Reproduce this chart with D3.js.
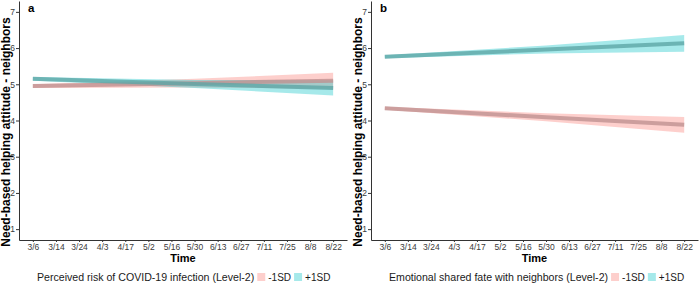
<!DOCTYPE html>
<html>
<head>
<meta charset="utf-8">
<script src="https://cdn.jsdelivr.net/npm/d3@7"></script>
<style>
  body { margin: 0; background: #fff; }
  svg { display: block; font-family: "Liberation Sans", Arial, sans-serif; }
</style>
</head>
<body>
<svg id="chart" width="700" height="284"></svg>
<script>
// time points shown on the x axis
const timeLabels = ["3/6", "3/14", "3/24", "4/3", "4/17", "5/2", "5/16", "5/30", "6/13", "6/27", "7/11", "7/25", "8/8", "8/22"];
// the fitted lines are read at first, middle and last time point
const fitTimes = ["3/6", "5/30", "8/22"];
const yTicks = [1, 2, 3, 4, 5, 6, 7];

// panel a: perceived risk of COVID-19 infection
const riskLowMean = [4.95, 5.03, 5.10];
const riskLowLower = [4.90, 4.91, 4.88];
const riskLowUpper = [5.00, 5.15, 5.32];
const riskHighMean = [5.15, 5.01, 4.90];
const riskHighLower = [5.10, 4.90, 4.69];
const riskHighUpper = [5.20, 5.12, 5.11];

// panel b: emotional shared fate with neighbors
const fateLowMean = [4.34, 4.09, 3.88];
const fateLowLower = [4.30, 3.98, 3.66];
const fateLowUpper = [4.38, 4.20, 4.10];
const fateHighMean = [5.76, 5.96, 6.13];
const fateHighLower = [5.72, 5.85, 5.90];
const fateHighUpper = [5.80, 6.07, 6.36];

const groups = ["-1SD", "+1SD"];
const groupColors = ["#F8766D", "#00BFC4"];
const lineColors = ["#bf9191", "#5ea6a6"];

const panels = [
    {
        tag: "a", left: 19, right: 347,
        legend: "Perceived risk of COVID-19 infection (Level-2)",
        series: [
            { mean: riskLowMean, lower: riskLowLower, upper: riskLowUpper },
            { mean: riskHighMean, lower: riskHighLower, upper: riskHighUpper }
        ]
    },
    {
        tag: "b", left: 371, right: 698,
        legend: "Emotional shared fate with neighbors (Level-2)",
        series: [
            { mean: fateLowMean, lower: fateLowLower, upper: fateLowUpper },
            { mean: fateHighMean, lower: fateHighLower, upper: fateHighUpper }
        ]
    }
];

const svg = d3.select("#chart");
const plotTop = 1, plotBottom = 240;

panels.forEach(p => {
    const g = svg.append("g");

    const x = d3.scalePoint().domain(timeLabels).range([p.left, p.right]).padding(0.6);
    const y = d3.scaleLinear().domain([0.7, 7.3]).range([plotBottom, plotTop]);

    // ribbons then fitted lines
    p.series.forEach((s, i) => {
        const rows = fitTimes.map((t, k) => ({ t: t, lo: s.lower[k], hi: s.upper[k] }));
        g.append("path")
            .attr("d", d3.area().x(d => x(d.t)).y0(d => y(d.lo)).y1(d => y(d.hi))(rows))
            .attr("fill", groupColors[i])
            .attr("fill-opacity", 0.35);
    });
    p.series.forEach((s, i) => {
        const rows = fitTimes.map((t, k) => ({ t: t, m: s.mean[k] }));
        g.append("path")
            .attr("d", d3.line().x(d => x(d.t)).y(d => y(d.m))(rows))
            .attr("fill", "none")
            .attr("stroke", lineColors[i])
            .attr("stroke-opacity", 0.8)
            .attr("stroke-width", 4);
    });

    // axes
    const xAxis = g.append("g")
        .attr("transform", "translate(0," + plotBottom + ")")
        .call(d3.axisBottom(x).tickSize(2).tickPadding(1.5).tickSizeOuter(0));
    const yAxis = g.append("g")
        .attr("transform", "translate(" + p.left + ",0)")
        .call(d3.axisLeft(y).tickValues(yTicks).tickFormat(d3.format("d"))
            .tickSize(3).tickPadding(1).tickSizeOuter(0));
    [xAxis, yAxis].forEach(a => {
        a.select(".domain").attr("stroke", "#333").attr("stroke-width", 1);
        a.selectAll(".tick line").attr("stroke", "#333");
        a.selectAll(".tick text").attr("fill", "#3a3a3a").style("font-size", "8.5px")
            .style("font-family", "'Liberation Sans', Arial, sans-serif");
    });

    // titles
    g.append("text")
        .attr("x", (p.left + p.right) / 2).attr("y", 262)
        .attr("text-anchor", "middle")
        .style("font-size", "11px").style("font-weight", "bold")
        .text("Time");
    g.append("text")
        .attr("transform", "translate(" + (p.left - 9) + ",132) rotate(-90)")
        .attr("text-anchor", "middle")
        .style("font-size", "12px").style("font-weight", "bold")
        .text("Need-based helping attitude - neighbors");
    g.append("text")
        .attr("x", p.left + 9).attr("y", 12)
        .style("font-size", "11.5px").style("font-weight", "bold")
        .text(p.tag);

    // legend
    const lg = g.append("g").attr("transform", "translate(" + (p.left + 18) + ",281)");
    const title = lg.append("text")
        .style("font-size", "10.6px").attr("fill", "#1a1a1a")
        .text(p.legend);
    let cx = title.node().getComputedTextLength() + 3;
    groups.forEach((name, i) => {
        lg.append("rect")
            .attr("x", cx).attr("y", -8).attr("width", 8).attr("height", 8)
            .attr("fill", groupColors[i]).attr("fill-opacity", 0.35);
        const t = lg.append("text")
            .attr("x", cx + 11)
            .style("font-size", "10px").attr("fill", "#1a1a1a")
            .text(name);
        cx += 11 + t.node().getComputedTextLength() + 3;
    });
});
</script>
</body>
</html>
